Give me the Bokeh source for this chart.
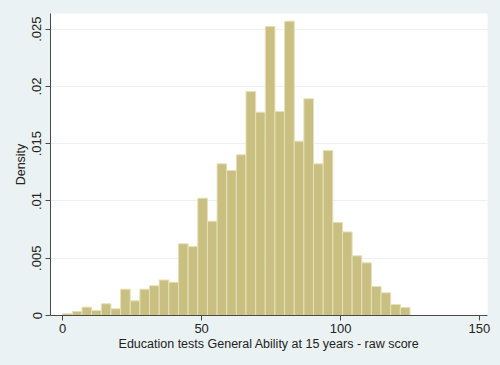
import numpy as np
from bokeh.plotting import figure
from bokeh.models import Range1d, FixedTicker, CustomJSTickFormatter, ColumnDataSource
from bokeh.embed import file_html
from bokeh.resources import INLINE

# Histogram: 36 bins spanning 0..125
bin_start = 0.0
bin_end = 125.0
densities = [0.00015, 0.00035, 0.00073, 0.00044, 0.00102, 0.00058,
             0.0023, 0.00128, 0.0023, 0.0026, 0.0031, 0.0029,
             0.00626, 0.00602, 0.01024, 0.00823, 0.01324, 0.01266,
             0.01403, 0.01955, 0.01775, 0.02523, 0.01781, 0.0257,
             0.01522, 0.01892, 0.01324, 0.0144, 0.00812, 0.0073,
             0.00521, 0.0046, 0.00253, 0.00198, 0.00096, 0.0007]
x_ticks = [0, 50, 100, 150]
y_ticks = [0, 0.005, 0.01, 0.015, 0.02, 0.025]
x_label = "Education tests General Ability at 15 years - raw score"
y_label = "Density"

edges = np.linspace(bin_start, bin_end, len(densities) + 1)
src = ColumnDataSource(dict(left=edges[:-1], right=edges[1:], top=densities,
                            bottom=[0] * len(densities)))

BG = "#EAF2F3"
p = figure(frame_width=437, frame_height=302,
           x_range=Range1d(-4.4, 152.9), y_range=Range1d(0, 0.02637),
           output_backend="svg", toolbar_location=None,
           min_border_left=50, min_border_right=13,
           min_border_top=13, min_border_bottom=50)
p.background_fill_color = "white"
p.border_fill_color = BG
p.outline_line_color = None

p.quad(left="left", right="right", top="top", bottom="bottom", source=src,
       fill_color="#C9BF80", line_color="#E6E0B9", line_width=1)

font = "Liberation Sans"
for ax in (p.xaxis[0], p.yaxis[0]):
    ax.axis_line_color = "#4a4a4a"
    ax.major_tick_line_color = "#4a4a4a"
    ax.major_tick_out = 5
    ax.major_tick_in = 0
    ax.minor_tick_line_color = None
    ax.major_label_text_font = font
    ax.major_label_text_font_size = "13px"
    ax.major_label_text_color = "#222222"
    ax.axis_label_text_font = font
    ax.axis_label_text_font_size = "12.5px"
    ax.axis_label_text_font_style = "normal"
    ax.axis_label_text_color = "#222222"

p.xaxis.ticker = FixedTicker(ticks=x_ticks)
p.yaxis.ticker = FixedTicker(ticks=y_ticks)
p.yaxis.formatter = CustomJSTickFormatter(code="""
if (tick == 0) return "0";
return tick.toFixed(3).replace(/0+$/, '').replace(/^0/, '');
""")
p.yaxis.major_label_orientation = "vertical"
p.xaxis.axis_label = x_label
p.yaxis.axis_label = y_label
p.xaxis.major_label_standoff = 3
p.xaxis.axis_label_standoff = 1
p.yaxis.major_label_standoff = 4
p.yaxis.axis_label_standoff = 2

p.xgrid.grid_line_color = None
p.ygrid.grid_line_color = BG
p.ygrid.grid_line_width = 1

html = file_html(p, INLINE).replace("<body>", '<body style="background:#EAF2F3">')
open("out.html", "w").write(html)
